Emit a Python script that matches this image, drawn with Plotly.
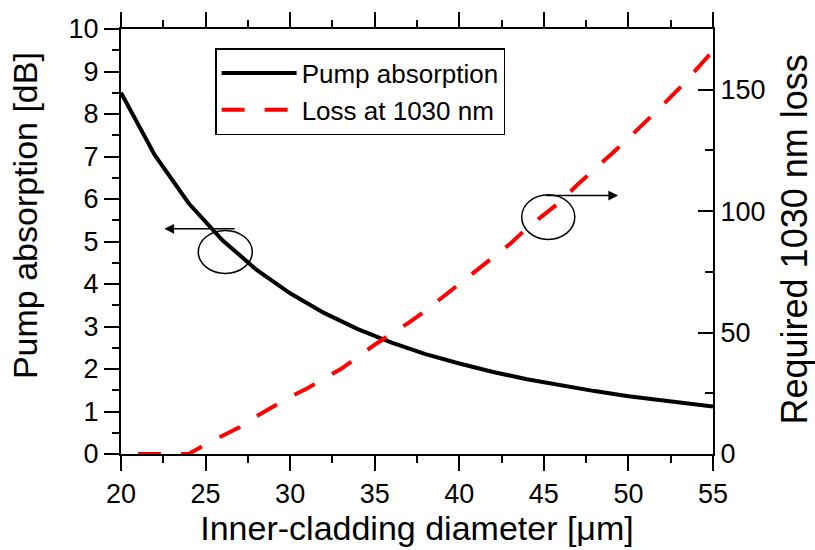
import plotly.graph_objects as go

# ---- data ----
diam_pump = [20, 22, 24, 26, 28, 30, 32, 34, 36, 38, 40, 42, 44, 46, 48, 50, 52, 54, 55]
pump_absorption = [8.50, 7.03, 5.90, 5.03, 4.34, 3.78, 3.32, 2.94, 2.62, 2.35, 2.13,
                   1.93, 1.76, 1.61, 1.48, 1.36, 1.26, 1.17, 1.12]

diam_loss = [21, 22, 23, 24, 25, 26, 27, 28, 29, 30, 31, 32, 33, 34, 35, 36, 37, 38,
             39, 40, 41, 42, 43, 44, 45, 46, 47, 48, 49, 50, 51, 52, 53, 54, 55]
loss_1030 = [0, 0, 0, 0, 4, 7.5, 11, 15.5, 19.5, 23.5, 27, 31, 35, 40, 45, 49.5, 54,
             59, 64.5, 70, 76, 81, 86.5, 93, 98.5, 104, 111, 117, 123.5, 130, 136.5,
             143.5, 150.5, 158, 166]

x_ticks = [20, 25, 30, 35, 40, 45, 50, 55]
y_left_ticks = list(range(0, 11))
y_right_ticks = [0, 50, 100, 150]

FONT = "Liberation Sans, Arial, sans-serif"

fig = go.Figure()
fig.add_trace(go.Scatter(x=diam_pump, y=pump_absorption, mode="lines",
                         name="Pump absorption",
                         line=dict(color="black", width=4)))
fig.add_trace(go.Scatter(x=diam_loss, y=loss_1030, mode="lines", yaxis="y2",
                         name="Loss at 1030 nm",
                         line=dict(color="#ff0000", width=4, dash="23px,20px")))

# direction markers: ellipses and arrows
fig.add_shape(type="circle", xref="x", yref="y", x0=24.57, x1=27.76, y0=4.25, y1=5.26,
              line=dict(color="black", width=1.5))
fig.add_shape(type="circle", xref="x", yref="y", x0=43.69, x1=46.83, y0=5.05, y1=6.10,
              line=dict(color="black", width=1.5))
fig.add_annotation(x=22.56, y=5.30, ax=26.81, ay=5.30, xref="x", yref="y",
                   axref="x", ayref="y", text="", showarrow=True,
                   arrowhead=2, arrowsize=1.3, arrowwidth=1.5, arrowcolor="black")
fig.add_annotation(x=49.39, y=6.08, ax=45.06, ay=6.08, xref="x", yref="y",
                   axref="x", ayref="y", text="", showarrow=True,
                   arrowhead=2, arrowsize=1.3, arrowwidth=1.5, arrowcolor="black")

# axis titles for the two y axes (placed as in the reference)
fig.add_annotation(text="Pump absorption [dB]", textangle=-90, showarrow=False,
                   xref="paper", yref="paper", x=-0.162, y=0.56,
                   xanchor="center", yanchor="middle",
                   font=dict(family=FONT, size=34, color="black"))
fig.add_annotation(text="Required 1030 nm loss", textangle=-90, showarrow=False,
                   xref="paper", yref="paper", x=1.137, y=0.505,
                   xanchor="center", yanchor="middle",
                   font=dict(family=FONT, size=36, color="black"))

axis_common = dict(showline=True, linecolor="black", linewidth=2, showgrid=False,
                   zeroline=False, tickcolor="black", tickwidth=2,
                   tickfont=dict(family=FONT, size=27, color="black"))

fig.update_layout(
    width=815, height=550,
    margin=dict(l=121, r=102, t=18, b=96),
    paper_bgcolor="white", plot_bgcolor="white",
    font=dict(family=FONT, color="black"),
    showlegend=True,
    legend=dict(x=0.159, y=0.955, xanchor="left", yanchor="top",
                bordercolor="black", borderwidth=1.5, bgcolor="white",
                font=dict(family=FONT, size=26, color="black"),
                itemwidth=75, tracegroupgap=0),
    xaxis=dict(range=[20, 55], tickvals=x_ticks, ticks="outside", ticklen=15,
               mirror="ticks",
               minor=dict(dtick=2.5, ticklen=7, tickwidth=2, tickcolor="black", ticks="outside"),
               title=dict(text="Inner-cladding diameter [μm]",
                          font=dict(family=FONT, size=34, color="black"), standoff=4),
               **axis_common),
    yaxis=dict(range=[0, 10], tickvals=y_left_ticks, ticks="outside", ticklen=15,
               minor=dict(dtick=0.5, ticklen=7, tickwidth=2, tickcolor="black", ticks="outside"),
               **axis_common),
    yaxis2=dict(range=[0, 175], tickvals=y_right_ticks, ticks="inside", ticklen=15,
                overlaying="y", side="right",
                minor=dict(dtick=25, ticklen=8, tickwidth=2, tickcolor="black", ticks="inside"),
                **axis_common),
)

fig.write_html("out.html")
